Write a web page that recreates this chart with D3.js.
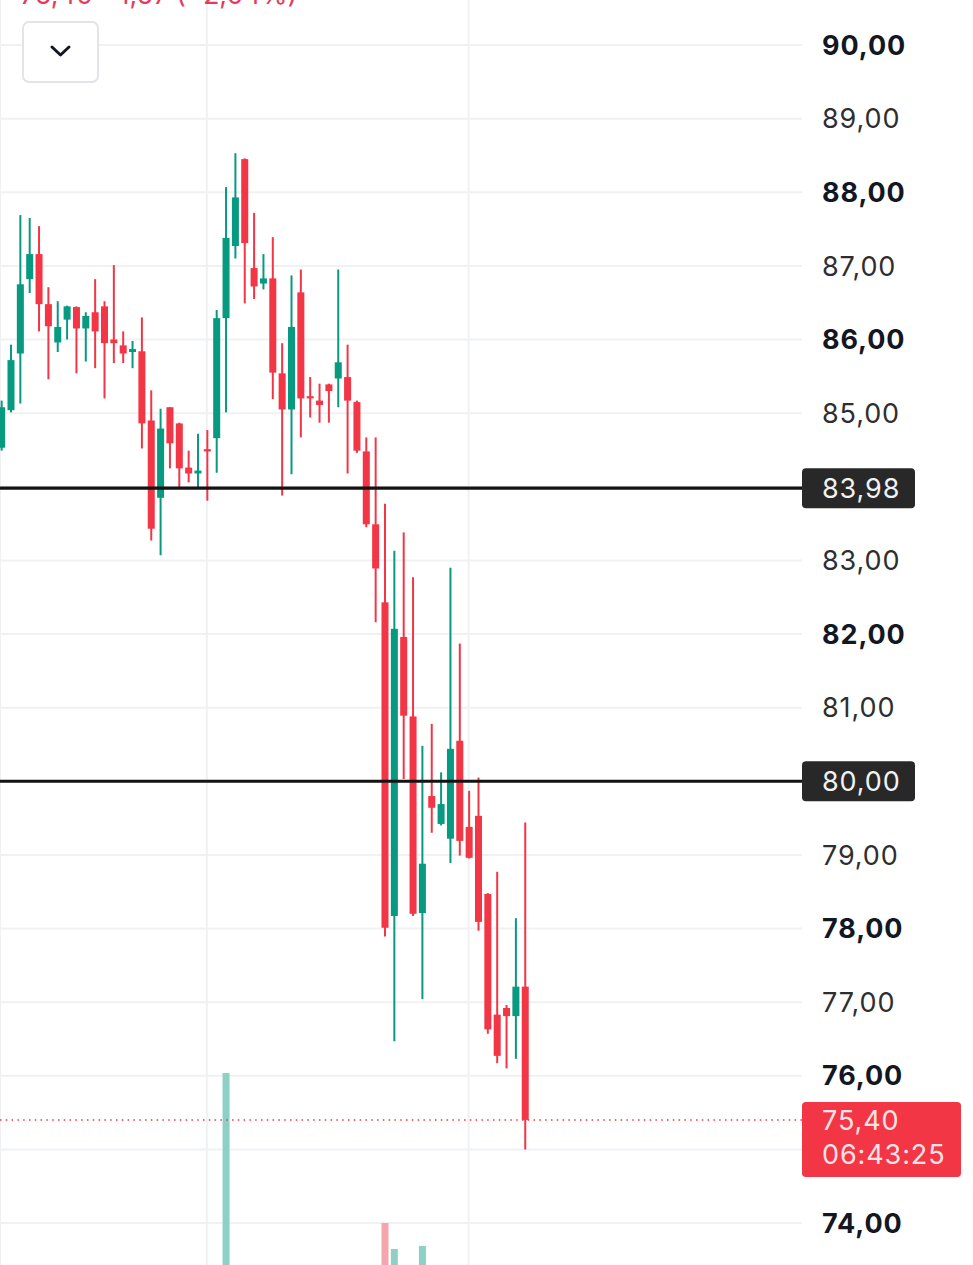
<!DOCTYPE html>
<html>
<head>
<meta charset="utf-8">
<script src="https://cdn.jsdelivr.net/npm/d3@7"></script>
<style>
  html, body { margin: 0; padding: 0; background: #fff; overflow: hidden; }
  svg { display: block; font-family: Inter, "Noto Sans", sans-serif; }
</style>
</head>
<body>
<div id="chart"></div>
<script>
// candles, oldest first
var opens = [84.53, 85.04, 85.81, 86.82, 87.16, 86.48, 85.96, 86.27, 86.44, 86.15,
  86.37, 86.45, 86.00, 85.92, 85.83, 85.84, 84.90, 83.85, 85.08, 84.86,
  84.26, 84.18, 84.51, 84.66, 86.29, 87.27, 88.45, 86.97, 86.76, 86.83,
  85.54, 85.05, 86.64, 85.23, 85.17, 85.39, 85.47, 85.49, 85.15, 84.48,
  83.49, 82.43, 78.17, 81.96, 80.88, 78.21, 79.80, 79.42, 79.22, 80.55,
  79.38, 79.53, 78.47, 76.83, 76.92, 76.81, 77.21];
var highs = [85.17, 85.93, 87.69, 87.65, 87.54, 86.71, 86.52, 86.46, 86.45, 86.37,
  86.82, 86.52, 87.01, 86.11, 85.98, 86.30, 85.31, 85.06, 85.08, 84.87,
  84.49, 84.72, 84.77, 86.40, 88.07, 88.53, 88.46, 87.72, 87.16, 87.39,
  85.95, 86.87, 86.95, 85.49, 85.40, 85.40, 86.95, 85.93, 85.17, 84.67,
  84.67, 83.77, 83.13, 83.38, 82.77, 80.48, 80.78, 80.12, 82.90, 81.87,
  79.87, 80.05, 78.48, 78.77, 76.96, 78.14, 79.44];
var lows = [84.49, 85.01, 85.13, 86.63, 86.11, 85.46, 85.83, 86.00, 85.54, 85.70,
  85.61, 85.20, 85.68, 85.68, 85.61, 84.52, 83.27, 83.07, 84.25, 83.98,
  84.06, 83.99, 83.81, 84.19, 85.01, 87.10, 86.49, 86.55, 86.68, 85.19,
  83.88, 84.17, 84.67, 84.94, 84.87, 84.87, 85.08, 84.18, 84.46, 83.45,
  82.16, 77.89, 76.47, 80.03, 78.17, 77.04, 79.30, 79.40, 78.89, 78.99,
  78.95, 77.97, 76.57, 76.17, 76.10, 76.23, 75.00];
var closes = [85.08, 85.72, 86.75, 87.16, 86.48, 86.18, 86.17, 86.45, 86.15, 86.32,
  86.11, 85.95, 85.95, 85.81, 85.87, 84.86, 83.43, 84.79, 84.59, 84.25,
  84.18, 84.22, 84.48, 86.29, 87.38, 87.93, 87.31, 86.72, 86.83, 85.55,
  85.05, 86.17, 85.20, 85.20, 85.11, 85.30, 85.69, 85.17, 84.49, 83.49,
  82.89, 78.01, 82.07, 80.89, 78.20, 78.88, 79.64, 79.69, 80.44, 79.19,
  78.96, 78.09, 76.63, 76.27, 76.81, 77.21, 75.40];

// only the volume bars that reach into the visible area
var volumes = {24: 960, 41: 210, 42: 80, 45: 95};

// price scale labels and marked levels
var priceTicks = [90, 89, 88, 87, 86, 85, 83, 82, 81, 79, 78, 77, 76, 74];
var levelLines = [83.98, 80.00];
var lastPrice = 75.40;
var countdown = "06:43:25";
var headerText = "75,40  \u22121,57 (\u22122,04%)";

var width = 973;
var height = 1265;
var paneRight = 802;

var upColor = "#089981";
var downColor = "#f23645";
var upVol = "#8dd1c6";
var downVol = "#f6a5ad";

var fmt = function (v) {
  return d3.format(".2f")(v).replace(".", ",");
};

var candles = opens.map(function (o, i) {
  return { i: i, o: o, h: highs[i], l: lows[i], c: closes[i], v: volumes[i] };
});

// step of 9.35px per bar
var x = d3
  .scaleBand()
  .domain(d3.range(candles.length))
  .range([-3.03, -3.03 + 9.35 * candles.length])
  .paddingInner(0.25)
  .paddingOuter(0.125);

var y = d3.scaleLinear().domain([74, 90]).range([1223, 45]);

var yVol = d3.scaleLinear().domain([0, 1000]).range([height, height - 200]);

var svg = d3
  .select("#chart")
  .append("svg")
  .attr("width", width)
  .attr("height", height);

// grid
var grid = svg.append("g").attr("class", "grid");

grid
  .selectAll("line.h")
  .data(d3.range(74, 91))
  .join("line")
  .attr("class", "h")
  .attr("x1", 0)
  .attr("x2", paneRight)
  .attr("y1", (d) => y(d))
  .attr("y2", (d) => y(d))
  .attr("stroke", "#f0f1f3")
  .attr("stroke-width", 2);

// vertical grid sits on day boundaries
var dayCols = [22, 50, 81];
grid
  .selectAll("line.v")
  .data(dayCols)
  .join("line")
  .attr("class", "v")
  .attr("x1", (d) => x(d) + x.bandwidth() / 2 - 0.5)
  .attr("x2", (d) => x(d) + x.bandwidth() / 2 - 0.5)
  .attr("y1", 0)
  .attr("y2", height)
  .attr("stroke", "#f0f1f3")
  .attr("stroke-width", 2);

// volume
svg
  .append("g")
  .selectAll("rect")
  .data(candles.filter((d) => d.v != undefined))
  .join("rect")
  .attr("x", (d) => x(d.i))
  .attr("width", x.bandwidth())
  .attr("y", (d) => yVol(d.v))
  .attr("height", (d) => yVol(0) - yVol(d.v))
  .attr("fill", (d) => (d.c >= d.o ? upVol : downVol));

// last price dotted line
svg
  .append("line")
  .attr("x1", 0)
  .attr("x2", paneRight)
  .attr("y1", y(lastPrice))
  .attr("y2", y(lastPrice))
  .attr("stroke", downColor)
  .attr("stroke-width", 1.5)
  .attr("stroke-dasharray", "1.5,4.3");

// candles
var cg = svg
  .append("g")
  .selectAll("g")
  .data(candles)
  .join("g")
  .attr("fill", (d) => (d.c >= d.o ? upColor : downColor))
  .attr("stroke", (d) => (d.c >= d.o ? upColor : downColor));

cg.append("line")
  .attr("x1", (d) => x(d.i) + x.bandwidth() / 2)
  .attr("x2", (d) => x(d.i) + x.bandwidth() / 2)
  .attr("y1", (d) => y(d.h))
  .attr("y2", (d) => y(d.l))
  .attr("stroke-width", 2);

cg.append("rect")
  .attr("stroke", "none")
  .attr("x", (d) => x(d.i))
  .attr("width", x.bandwidth())
  .attr("y", (d) => y(Math.max(d.o, d.c)))
  .attr("height", (d) => Math.max(2, Math.abs(y(d.o) - y(d.c))));

// horizontal levels
svg
  .append("g")
  .selectAll("line")
  .data(levelLines)
  .join("line")
  .attr("x1", 0)
  .attr("x2", paneRight)
  .attr("y1", (d) => y(d))
  .attr("y2", (d) => y(d))
  .attr("stroke", "#131313")
  .attr("stroke-width", 3.2);

// price scale labels, even values bold
svg
  .append("g")
  .selectAll("text")
  .data(priceTicks)
  .join("text")
  .attr("x", 822)
  .attr("y", (d) => y(d))
  .attr("dy", "0.36em")
  .attr("font-size", 27)
  .attr("letter-spacing", 0.9)
  .attr("font-weight", (d) => (d % 2 == 0 ? 700 : 400))
  .attr("fill", (d) => (d % 2 == 0 ? "#131722" : "#2e2e2e"))
  .text((d) => fmt(d));

// level badges
var badge = svg
  .append("g")
  .selectAll("g")
  .data(levelLines)
  .join("g")
  .attr("transform", (d) => "translate(" + paneRight + "," + y(d) + ")");

badge
  .append("rect")
  .attr("x", 0)
  .attr("y", -20)
  .attr("width", 113)
  .attr("height", 40)
  .attr("rx", 4)
  .attr("fill", "#282828");

badge
  .append("text")
  .attr("x", 20)
  .attr("dy", "0.36em")
  .attr("font-size", 27)
  .attr("letter-spacing", 0.9)
  .attr("fill", "#f2f2f2")
  .text((d) => fmt(d));

// last price badge with countdown
var lp = svg
  .append("g")
  .attr("transform", "translate(" + paneRight + "," + y(lastPrice) + ")");

lp.append("rect")
  .attr("x", 0)
  .attr("y", -18)
  .attr("width", 159)
  .attr("height", 75)
  .attr("rx", 4)
  .attr("fill", downColor);

lp.append("text")
  .attr("x", 20)
  .attr("y", 0)
  .attr("dy", "0.36em")
  .attr("font-size", 27)
  .attr("letter-spacing", 0.9)
  .attr("fill", "#fde3e5")
  .text(fmt(lastPrice));

lp.append("text")
  .attr("x", 20)
  .attr("y", 34)
  .attr("dy", "0.36em")
  .attr("font-size", 27)
  .attr("letter-spacing", 0.9)
  .attr("fill", "#fde3e5")
  .text(countdown);

// header text, cut by the top edge
svg
  .append("text")
  .attr("x", 20)
  .attr("y", 4)
  .attr("font-size", 27)
  .attr("fill", "#e8395a")
  .text(headerText);

// collapse button
var btn = svg.append("g").attr("transform", "translate(23,22)");

btn
  .append("rect")
  .attr("width", 75)
  .attr("height", 60)
  .attr("rx", 6)
  .attr("fill", "#fff")
  .attr("stroke", "#e3e4e8")
  .attr("stroke-width", 2);

btn
  .append("path")
  .attr("d", d3.line()([[29, 25], [37.5, 33], [46, 25]]))
  .attr("fill", "none")
  .attr("stroke", "#131722")
  .attr("stroke-width", 3)
  .attr("stroke-linecap", "round")
  .attr("stroke-linejoin", "round");
</script>
</body>
</html>
